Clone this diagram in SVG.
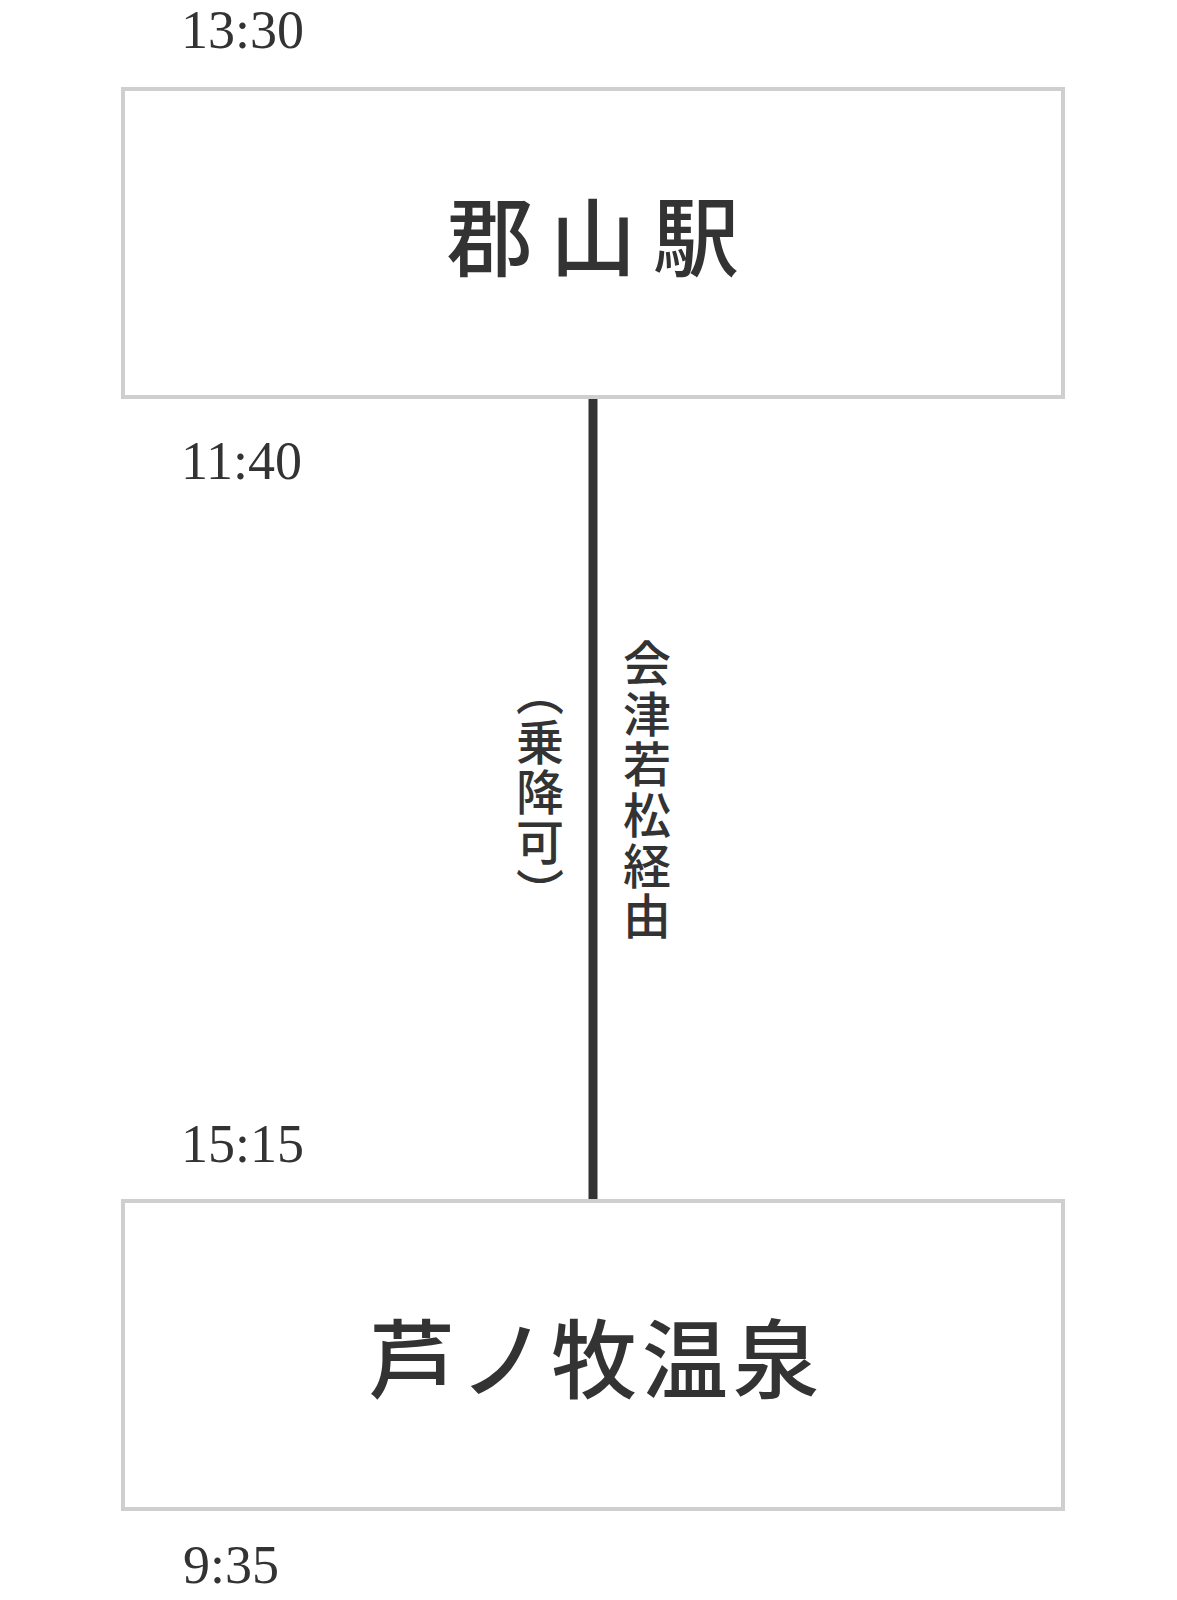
<svg xmlns="http://www.w3.org/2000/svg" width="1177" height="1600" viewBox="0 0 1177 1600">
<style>
.box{fill:#fff;stroke:#cfcfcf;stroke-width:4}
.time{font-family:"Liberation Serif","Times New Roman",serif;font-size:54px;fill:#333}
.title{font-family:"Noto Sans CJK JP",sans-serif;font-size:86px;font-weight:500;fill:#333}
.vert{font-family:"Noto Sans CJK JP",sans-serif;font-size:48px;font-weight:500;fill:#333;writing-mode:vertical-rl}
.route{stroke:#333;stroke-width:9;fill:none}
</style>
<rect width="1177" height="1600" fill="#fff"/>
<g id="connectors">
<line class="route" x1="593" y1="399" x2="593" y2="1199"/>
<text class="vert" x="647" y="639" letter-spacing="2.6">会津若松経由</text>
<text class="vert" x="540" y="668" letter-spacing="2">（乗降可）</text>
</g>
<g id="node-koriyama">
<rect class="box" x="123" y="89" width="940" height="308"/>
<text class="title" x="447" y="270" letter-spacing="17">郡山駅</text>
<text class="time" x="181" y="48">13:30</text>
<text class="time" x="181" y="479">11:40</text>
</g>
<g id="node-ashinomaki">
<rect class="box" x="123" y="1201" width="940" height="308"/>
<text class="title" x="369" y="1392" letter-spacing="5">芦ノ牧温泉</text>
<text class="time" x="181" y="1162">15:15</text>
<text class="time" x="183" y="1583">9:35</text>
</g>
</svg>
